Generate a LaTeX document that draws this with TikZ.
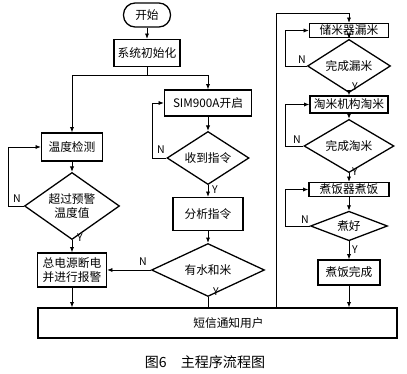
\documentclass[tikz,border=0pt]{standalone}
\usepackage{fontspec}
\setmainfont{Noto Sans CJK SC}
\usetikzlibrary{arrows.meta,positioning,shapes.geometric}
\tikzset{
  kuang/.style={rectangle, draw=black, line width=1.1pt, align=center,
                font=\fontsize{10}{12}\selectfont, inner sep=1pt},
  lingxing/.style={diamond, draw=black, line width=1.1pt, align=center,
                   font=\fontsize{10}{12}\selectfont, inner sep=-1pt},
  chicun/.style 2 args={minimum width=#1*0.03cm, minimum height=#2*0.03cm},
  jiantou/.style={-{Latex[length=1.6mm,width=1.3mm]}, line width=0.8pt},
  xian/.style={line width=0.8pt},
  biao/.style={font=\fontsize{9}{10}\selectfont, inner sep=0.5pt},
}
\begin{document}
\begin{tikzpicture}[x=0.03cm,y=-0.03cm]
  \fill[white] (0,0) rectangle (407,374);
  \useasboundingbox (0,0) rectangle (407,374);
  % left and middle columns
  \node[kuang, chicun={47}{24}, rounded corners=0.35cm] (kaishi) at (147,15) {开始};
  \node[kuang, chicun={66}{27}] (chushi) at (147,53) {系统初始化};
  \node[kuang, chicun={87}{26}] (sim) at (208,103) {SIM900A开启};
  \node[lingxing, chicun={82}{50}] (shouzhi) at (208,158) {收到指令};
  \node[kuang, chicun={70}{33}] (fenxi) at (208,214) {分析指令};
  \node[lingxing, chicun={113}{35}] (youshui) at (208,270) {有水和米};
  \node[kuang, chicun={61}{28}] (wendu) at (72,147) {温度检测};
  \node[lingxing, chicun={95}{42}] (chaoguo) at (72,206) {超过预警\\温度值};
  \node[kuang, chicun={69}{34}] (zong) at (72,270) {总电源断电\\并进行报警};
  \node[kuang, chicun={359}{30}] (duanxin) at (217.5,323) {\hspace*{0.66cm}短信通知用户};
  % right column
  \node[kuang, chicun={79}{14}] (chumi) at (349,30.5) {储米器漏米};
  \node[lingxing, chicun={83}{25}] (wanlou) at (349,66) {完成漏米};
  \node[kuang, chicun={78}{17}] (taomi) at (349,104.5) {淘米机构淘米};
  \node[lingxing, chicun={90}{28}] (wantao) at (349,146) {完成淘米};
  \node[kuang, chicun={80}{14}] (zhufan) at (349,189.5) {煮饭器煮饭};
  \node[lingxing, chicun={77}{28}] (zhuhao) at (349,226) {煮好};
  \node[kuang, chicun={62}{25}] (wancheng) at (349,272.5) {煮饭完成};
  \node[font=\fontsize{12}{14}\selectfont] (tuming) at (205,362) {图6\quad 主程序流程图};
  \coordinate (fen) at (147,75);
  \coordinate (huan) at (276,13);
  \coordinate (zuo) at (285,0);
  % connectors
  \draw[jiantou] (kaishi) -- (chushi);
  \draw[xian] (chushi) -- (fen);
  \draw[jiantou] (fen) -| (wendu.north);
  \draw[jiantou] (fen) -| (sim.north);
  \draw[jiantou] (sim) -- (shouzhi);
  \draw[jiantou] (shouzhi.west) -- ++(-14,0) |- (sim.west);
  \draw[jiantou] (shouzhi) -- (fenxi);
  \draw[jiantou] (fenxi) -- (youshui);
  \draw[jiantou] (youshui.west) -- (zong.east);
  \draw[jiantou] (youshui.south) -- ++(0,11) -| (huan) -| (chumi.north);
  \draw[jiantou] (wendu) -- (chaoguo);
  \draw[jiantou] (chaoguo.west) -- ++(-15,0) |- (wendu.west);
  \draw[jiantou] (chaoguo) -- (zong);
  \draw[jiantou] (zong) -- (zong |- duanxin.north);
  \draw[jiantou] (chumi) -- (wanlou);
  \draw[jiantou] (wanlou.west) -- (wanlou.west -| zuo) |- (chumi.west);
  \draw[jiantou] (wanlou) -- (taomi);
  \draw[jiantou] (taomi) -- (wantao);
  \draw[jiantou] (wantao.west) -- (wantao.west -| zuo) |- (taomi.west);
  \draw[jiantou] (wantao) -- (zhufan);
  \draw[jiantou] (zhufan) -- (zhuhao);
  \draw[jiantou] (zhuhao.west) -- (zhuhao.west -| zuo) |- (zhufan.west);
  \draw[jiantou] (zhuhao) -- (wancheng);
  \draw[jiantou] (wancheng) -- (wancheng |- duanxin.north);
  % labels
  \node[biao] (n1) at (161,150) {N};
  \node[biao] (y1) at (215,190) {Y};
  \node[biao] (n2) at (143,262) {N};
  \node[biao] (y2) at (216,292) {Y};
  \node[biao] (n3) at (17,199) {N};
  \node[biao] (y3) at (80,238) {Y};
  \node[biao] (n4) at (302,60) {N};
  \node[biao] (y4) at (355,87) {Y};
  \node[biao] (n5) at (297,140) {N};
  \node[biao] (y5) at (355,172) {Y};
  \node[biao] (n6) at (305,220) {N};
  \node[biao] (y6) at (355,250) {Y};
\end{tikzpicture}
\end{document}
